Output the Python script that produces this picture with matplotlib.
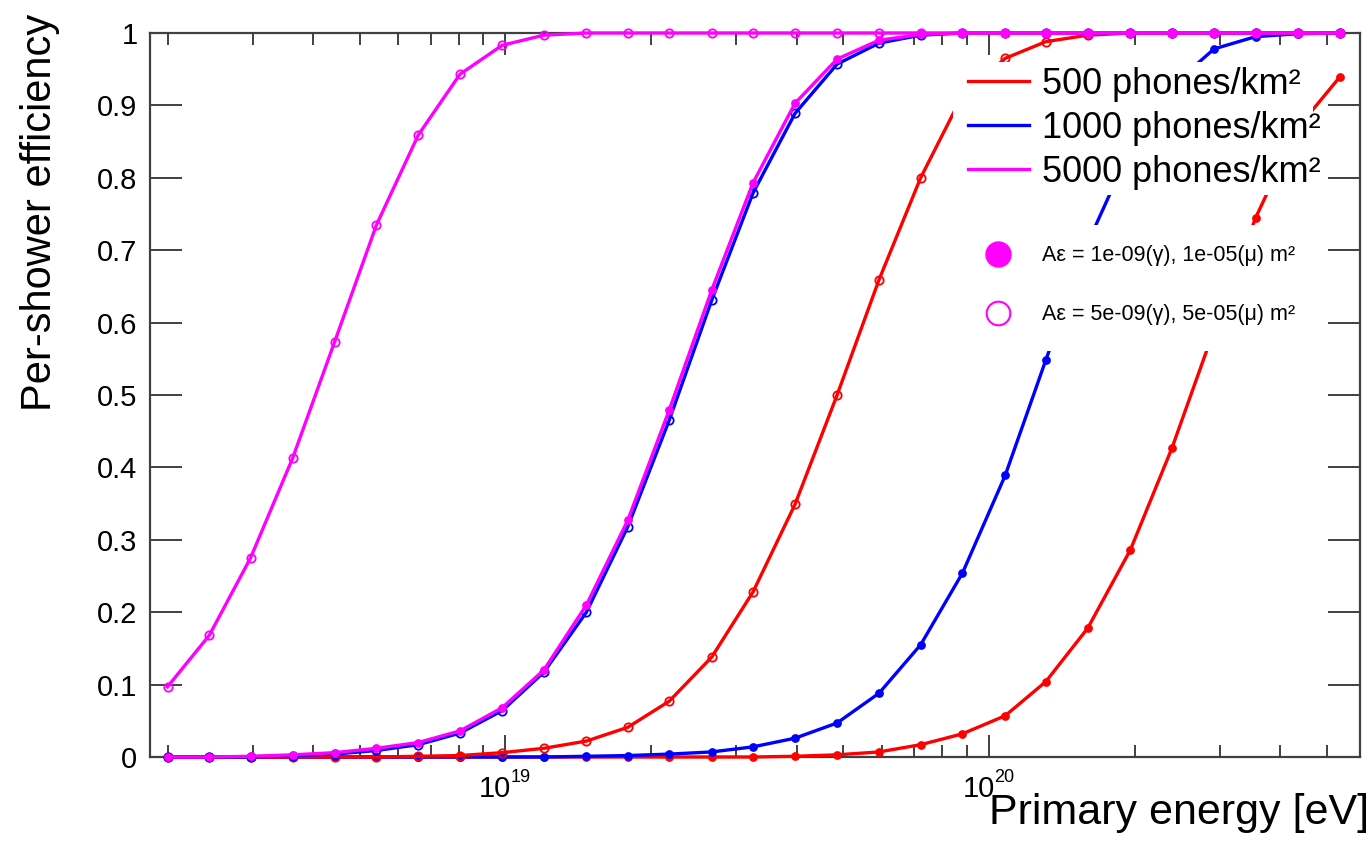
import numpy as np
import matplotlib
matplotlib.use('Agg')
import matplotlib.pyplot as plt
from matplotlib.lines import Line2D
from matplotlib.patches import Rectangle
from matplotlib.ticker import LogLocator, NullFormatter, FixedLocator

plt.rcParams['font.family'] = ['Liberation Sans', 'DejaVu Sans']

# --- Data ---
energy = [2.00e18, 2.44e18, 2.97e18, 3.63e18, 4.43e18, 5.41e18, 6.60e18, 8.05e18,
          9.84e18, 1.20e19, 1.47e19, 1.79e19, 2.18e19, 2.67e19, 3.25e19, 3.97e19,
          4.85e19, 5.92e19, 7.22e19, 8.81e19, 1.08e20, 1.31e20, 1.60e20, 1.96e20,
          2.39e20, 2.92e20, 3.56e20, 4.35e20, 5.31e20]

# A_eps = 1e-09 (gamma), 1e-05 (mu) m^2  -> filled markers
eff_500_a1 = [0, 0, 0, 0, 0, 0, 0, 0, 0, 0, 0, 0, 0, 0, 0.000, 0.001, 0.003, 0.007,
              0.017, 0.032, 0.057, 0.104, 0.178, 0.286, 0.427, 0.590, 0.745, 0.869, 0.939]
eff_1000_a1 = [0, 0, 0, 0, 0, 0, 0, 0, 0, 0, 0.001, 0.002, 0.004, 0.007, 0.014, 0.026,
               0.047, 0.088, 0.155, 0.254, 0.389, 0.548, 0.710, 0.840, 0.927, 0.978,
               0.995, 0.999, 1.0]
eff_5000_a1 = [0.000, 0.000, 0.001, 0.003, 0.006, 0.012, 0.020, 0.036, 0.068, 0.120,
               0.210, 0.327, 0.479, 0.645, 0.793, 0.903, 0.964, 0.990, 0.998, 1.0,
               1.0, 1.0, 1.0, 1.0, 1.0, 1.0, 1.0, 1.0, 1.0]

# A_eps = 5e-09 (gamma), 5e-05 (mu) m^2  -> open markers
eff_500_a5 = [0, 0, 0, 0, 0, 0, 0.001, 0.002, 0.006, 0.012, 0.022, 0.041, 0.077, 0.138,
              0.228, 0.349, 0.500, 0.659, 0.800, 0.914, 0.965, 0.988, 0.997, 1.0, 1.0,
              1.0, 1.0, 1.0, 1.0]
eff_1000_a5 = [0, 0, 0, 0.002, 0.004, 0.009, 0.017, 0.033, 0.064, 0.117, 0.200, 0.318,
               0.465, 0.631, 0.779, 0.889, 0.957, 0.986, 0.997, 1.0, 1.0, 1.0, 1.0, 1.0,
               1.0, 1.0, 1.0, 1.0, 1.0]
eff_5000_a5 = [0.097, 0.168, 0.275, 0.413, 0.573, 0.735, 0.859, 0.943, 0.983, 0.997,
               1.0, 1.0, 1.0, 1.0, 1.0, 1.0, 1.0, 1.0, 1.0, 1.0, 1.0, 1.0, 1.0, 1.0,
               1.0, 1.0, 1.0, 1.0, 1.0]

density_labels = ['500 phones/km²', '1000 phones/km²', '5000 phones/km²']
aeps_labels = ['Aε = 1e-09(γ), 1e-05(μ) m²', 'Aε = 5e-09(γ), 5e-05(μ) m²']
colors = ['red', 'blue', 'magenta']
decades = [19, 20]

# --- Plot ---
W, H = 1372, 843
fig = plt.figure(figsize=(W / 100, H / 100), dpi=100)
ax = fig.add_axes([150 / W, 1 - 757 / H, 1210 / W, 724 / H])

frame = '#404040'
for s in ax.spines.values():
    s.set_color(frame)
    s.set_linewidth(1.6)

series = [(eff_500_a1, 0, True), (eff_1000_a1, 1, True), (eff_500_a5, 0, False),
          (eff_1000_a5, 1, False), (eff_5000_a1, 2, True), (eff_5000_a5, 2, False)]
for vals, ci, filled in series:
    c = colors[ci]
    ax.plot(energy, vals, color=c, lw=2.4, marker='o',
            ms=5 if filled else 6,
            mfc=c if filled else 'none', mec=c, mew=1.3,
            clip_on=False, zorder=4)

ax.set_xscale('log')
ax.set_xlim(1.84e18, 5.85e20)
ax.set_ylim(0, 1)

yt = [0, 0.1, 0.2, 0.3, 0.4, 0.5, 0.6, 0.7, 0.8, 0.9, 1.0]
ax.yaxis.set_major_locator(FixedLocator(yt))
ax.set_yticklabels([f'{v:g}' for v in yt])
ax.xaxis.set_major_locator(LogLocator(base=10))
ax.xaxis.set_major_formatter(NullFormatter())
ax.xaxis.set_minor_locator(LogLocator(base=10, subs=np.arange(2, 10)))
ax.xaxis.set_minor_formatter(NullFormatter())

ax.tick_params(axis='y', which='major', direction='in', length=23, width=1.4,
               color=frame, labelsize=21, pad=9, left=True, right=True)
ax.tick_params(axis='x', which='major', direction='in', length=16, width=1.4,
               color=frame, top=True, bottom=True)
ax.tick_params(axis='x', which='minor', direction='in', length=8.5, width=1.4,
               color=frame, top=True, bottom=True)

# ROOT-style decade labels: big "10" with a small exponent
for d in decades:
    ax.annotate('10', xy=(10.0 ** d, 0), xycoords=('data', 'axes fraction'),
                xytext=(4, -29), textcoords='offset points',
                ha='right', va='baseline', fontsize=21)
    ax.annotate(str(d), xy=(10.0 ** d, 0), xycoords=('data', 'axes fraction'),
                xytext=(4, -18), textcoords='offset points',
                ha='left', va='baseline', fontsize=13)

fig.text(40 / W, 1 - 14 / H, 'Per-shower efficiency', rotation=90,
         ha='center', va='top', fontsize=30)
fig.text(1369 / W, 1 - 793 / H, 'Primary energy [eV]', ha='right', va='top',
         fontsize=31)

# white panels behind the two legends (they hide the curves there)
for x0, y0, x1, y1 in [(953, 62, 1313, 195), (957, 225, 1312, 351)]:
    ax.add_patch(Rectangle((x0 / W, 1 - y1 / H), (x1 - x0) / W, (y1 - y0) / H,
                           transform=fig.transFigure, facecolor='white',
                           edgecolor='none', zorder=8, clip_on=False))

# legends: phone density (lines), and effective area (markers)
h1 = [Line2D([], [], color=c, lw=2.4) for c in colors]
leg1 = ax.legend(h1, density_labels, loc='upper left',
                 bbox_to_anchor=(964 / W, 1 - 63 / H), bbox_transform=fig.transFigure,
                 fontsize=26, frameon=False, borderpad=0.1, borderaxespad=0,
                 handlelength=1.7, handletextpad=0.35, labelspacing=0.25)
leg1.set_zorder(10)
ax.add_artist(leg1)

h2 = [Line2D([], [], ls='none', marker='o', ms=18, color='magenta'),
      Line2D([], [], ls='none', marker='o', ms=17, mfc='white', mec='magenta', mew=1.5)]
leg2 = ax.legend(h2, aeps_labels, loc='upper left',
                 bbox_to_anchor=(957 / W, 1 - 225 / H), bbox_transform=fig.transFigure,
                 fontsize=15.5, frameon=False, borderpad=0.95, borderaxespad=0,
                 handlelength=1.95, handletextpad=1.05, labelspacing=1.75, numpoints=1)
leg2.set_zorder(10)

fig.savefig('out.png', dpi=100)
